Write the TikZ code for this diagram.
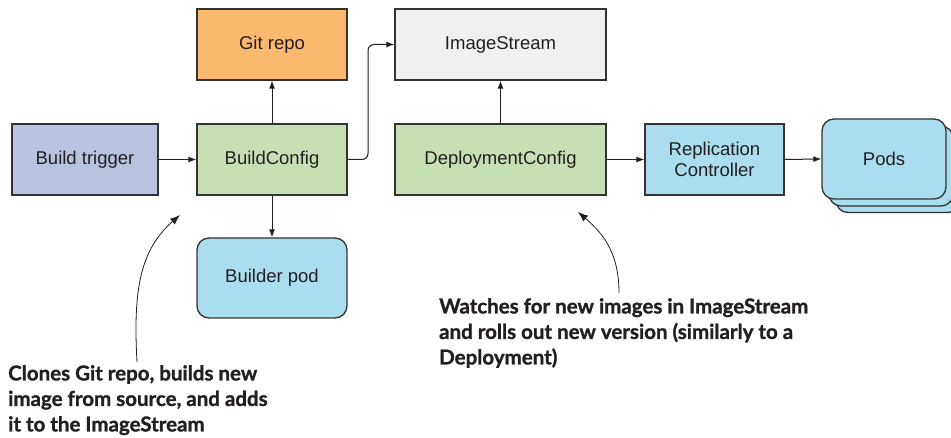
\documentclass[tikz,border=0pt]{standalone}
\usepackage{fontspec}
\setmainfont{Liberation Sans}
\newfontfamily\notefont{Lato}[BoldFeatures={FakeBold=1.2}]
\usetikzlibrary{arrows.meta}
\definecolor{trig}{HTML}{B8C3E2}
\definecolor{grn}{HTML}{C6E0B4}
\definecolor{org}{HTML}{FBB970}
\definecolor{gry}{HTML}{EFF0F2}
\definecolor{blu}{HTML}{A9DDEF}
\definecolor{ink}{HTML}{231F20}
\definecolor{edge}{HTML}{333333}
\tikzset{
  box/.style={draw=edge, line width=1.3pt, inner sep=0pt, align=center,
    font=\fontsize{18.5}{21.5}\selectfont, text=ink},
  rbox/.style={box, rounded corners=12pt},
  conn/.style={draw=ink, line width=1pt, -{Latex[length=8pt,width=6pt]}},
  curv/.style={draw=ink, line width=0.8pt, -{Latex[length=10pt,width=7.5pt]}},
  note/.style={font=\notefont\bfseries\fontsize{20.5}{25.5}\selectfont, text=ink, align=left, inner sep=0pt, anchor=north west}
}
\begin{document}
\begin{tikzpicture}[x=1pt,y=-1pt]
\useasboundingbox (0,0) rectangle (951,438);
\begin{scope}
\clip (0,0) rectangle (951,438);
% Pods stack
\node[rbox, fill=blu, minimum width=124pt, minimum height=80pt] (pods3) at (898,172.5) {};
\node[rbox, fill=blu, minimum width=124pt, minimum height=80pt] (pods2) at (891,166) {};
\node[rbox, fill=blu, minimum width=124pt, minimum height=80pt] (pods) at (884,159) {Pods};
\end{scope}
\node[box, fill=trig, minimum width=146pt, minimum height=71pt] (trigger) at (85,159.5) {Build trigger};
\node[box, fill=grn, minimum width=150pt, minimum height=71pt] (bc) at (272,159.5) {BuildConfig};
\node[box, fill=org, minimum width=150pt, minimum height=71pt] (git) at (272,44.5) {Git repo};
\node[rbox, fill=blu, minimum width=150pt, minimum height=80pt] (builder) at (272,278) {Builder pod};
\node[box, fill=gry, minimum width=211pt, minimum height=71pt] (is) at (500.5,44.5) {ImageStream};
\node[box, fill=grn, minimum width=211pt, minimum height=71pt] (dc) at (500.5,159.5) {DeploymentConfig};
\node[box, fill=blu, minimum width=139pt, minimum height=71pt] (rc) at (714.5,159.5) {Replication\\Controller};

\draw[conn] (trigger) -- (bc);
\draw[conn] (bc) -- (git);
\draw[conn] (bc) -- (builder);
\draw[conn, rounded corners=6pt] (bc.east) -| (368,44.5) -- (is.west);
\draw[conn] (dc) -- (is);
\draw[conn] (dc) -- (rc);
\draw[conn] (rc.east) -- (pods.west);

\node[note] (n1) at (8,365) {Clones Git repo, builds new\\image from source, and adds\\it to the ImageStream};
\node[note] (n2) at (439,298) {Watches for new images in ImageStream\\and rolls out new version (similarly to a\\Deployment)};
\coordinate (t1) at (180,215);
\coordinate (t2) at (578,212);
\draw[curv] (137,362) .. controls (133,290) and (140,250) .. (t1);
\draw[curv] (619,293) .. controls (619,255) and (605,235) .. (t2);
\end{tikzpicture}
\end{document}
